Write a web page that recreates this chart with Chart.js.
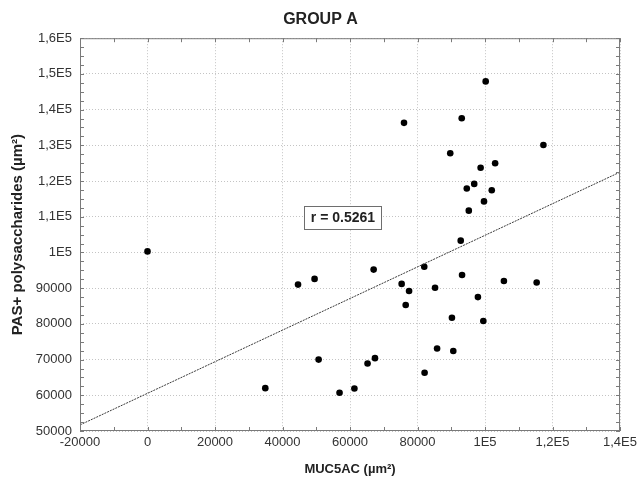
<!DOCTYPE html>
<html>
<head>
<meta charset="utf-8">
<script src="https://cdn.jsdelivr.net/npm/chart.js@4.4.1/dist/chart.umd.js"></script>
<style>
  html, body { margin: 0; padding: 0; background: #fff; }
  #wrap { width: 641px; height: 480px; }
</style>
</head>
<body>
<div id="wrap"><canvas id="scatterChart" width="641" height="480"></canvas></div>
<script>
// MUC5AC area (x) vs PAS+ polysaccharides area (y)
const mucValues = [0, 34900, 44600, 49500, 50700, 56900, 61300, 65200, 67000, 67400,
  75300, 76000, 76500, 77500, 82000, 82100, 85200, 85800, 89700, 90200,
  90600, 92800, 93100, 93200, 94600, 95200, 96800, 97900, 98700, 99500,
  99700, 100200, 102000, 103000, 105600, 115300, 117300]
const pasValues = [100300, 62000, 91000, 92600, 70000, 60700, 61900, 68900, 95200, 70400,
  91200, 136300, 85300, 89200, 96000, 66300, 90100, 73100, 127800, 81700,
  72400, 103300, 137600, 93700, 117900, 111700, 119200, 87500, 123700, 80800,
  114300, 147900, 117400, 125000, 92000, 91600, 130100]

// regression line end points as drawn in the figure
const fitX = [-20000, 140000]
const fitY = [51700, 122500]

const rLabel = "r = 0.5261"
const rLabelAt = [57900, 109900]

const titleText = "GROUP A"
const xTitle = "MUC5AC (µm²)"
const yTitle = "PAS+ polysaccharides (µm²)"

const points = mucValues.map((x, i) => ({ x, y: pasValues[i] }))
const fitLine = fitX.map((x, i) => ({ x, y: fitY[i] }))

function tickText(value) {
  if (Math.abs(value) >= 100000) {
    return (value / 100000).toString().replace(".", ",") + "E5"
  }
  return String(value)
}

const framePlugin = {
  id: "frame",
  beforeDraw(chart) {
    const { ctx } = chart
    ctx.save()
    ctx.fillStyle = "#fff"
    ctx.fillRect(0, 0, chart.width, chart.height)
    ctx.restore()
  },
  afterDatasetsDraw(chart) {
    const { ctx, chartArea: a, scales } = chart
    ctx.save()
    ctx.strokeStyle = "#7a7a7a"
    ctx.lineWidth = 1
    ctx.strokeRect(a.left + 0.5, a.top + 0.5, a.right - a.left - 1, a.bottom - a.top - 1)

    ctx.beginPath()
    for (let v = scales.x.min; v <= scales.x.max; v += 10000) {
      const px = Math.round(scales.x.getPixelForValue(v)) + 0.5
      ctx.moveTo(px, a.top); ctx.lineTo(px, a.top + 4)
      ctx.moveTo(px, a.bottom); ctx.lineTo(px, a.bottom - 4)
    }
    for (let v = scales.y.min; v <= scales.y.max; v += 2500) {
      const py = Math.round(scales.y.getPixelForValue(v)) + 0.5
      ctx.moveTo(a.left, py); ctx.lineTo(a.left + 4, py)
      ctx.moveTo(a.right, py); ctx.lineTo(a.right - 4, py)
    }
    ctx.stroke()

    // correlation label box
    const cx = scales.x.getPixelForValue(rLabelAt[0])
    const cy = scales.y.getPixelForValue(rLabelAt[1])
    const w = 77, h = 23
    const bx = Math.round(cx - w / 2) + 0.5
    const by = Math.round(cy - h / 2) + 0.5
    ctx.fillStyle = "#fff"
    ctx.fillRect(bx, by, w, h)
    ctx.strokeStyle = "#6e6e6e"
    ctx.strokeRect(bx, by, w, h)
    ctx.fillStyle = "#222"
    ctx.font = "bold 14px 'Liberation Sans', Arial, sans-serif"
    ctx.textAlign = "center"
    ctx.textBaseline = "middle"
    ctx.fillText(rLabel, cx, cy + 1)
    ctx.restore()
  }
}

const tickFont = { family: "'Liberation Sans', Arial, sans-serif", size: 13 }
const titleFont = { family: "'Liberation Sans', Arial, sans-serif", size: 13, weight: "bold" }
const gridStyle = { color: "#c4c4c4", drawTicks: false }
const gridBorder = { display: false, dash: [1, 2] }

new Chart(document.getElementById("scatterChart"), {
  type: "scatter",
  data: {
    datasets: [
      {
        label: "fit",
        data: fitLine,
        showLine: true,
        borderColor: "#3a3a3a",
        borderWidth: 1,
        borderDash: [2, 1],
        pointRadius: 0,
        fill: false
      },
      {
        label: "cases",
        data: points,
        backgroundColor: "#000",
        borderColor: "#000",
        pointRadius: 3.3,
        borderWidth: 0
      }
    ]
  },
  options: {
    responsive: false,
    animation: false,
    layout: { padding: { left: 0, right: 0, top: 0, bottom: 0 } },
    plugins: {
      legend: { display: false },
      tooltip: { enabled: false },
      title: {
        display: true,
        text: titleText,
        color: "#222",
        font: { family: "'Liberation Sans', Arial, sans-serif", size: 16, weight: "bold" },
        padding: { top: 10, bottom: 9 }
      }
    },
    scales: {
      x: {
        type: "linear",
        min: -20000,
        max: 140000,
        grid: gridStyle,
        border: gridBorder,
        ticks: { stepSize: 20000, color: "#333", font: tickFont, padding: 4, maxRotation: 0, callback: tickText },
        title: { display: true, text: xTitle, color: "#222", font: titleFont, padding: { top: 3, bottom: 3 } },
        afterFit: (scale) => { scale.height = 49 }
      },
      y: {
        type: "linear",
        min: 50000,
        max: 160000,
        grid: gridStyle,
        border: gridBorder,
        ticks: { stepSize: 10000, color: "#333", font: tickFont, padding: 8, callback: tickText },
        title: {
          display: true,
          text: yTitle,
          color: "#222",
          font: { family: "'Liberation Sans', Arial, sans-serif", size: 15, weight: "bold" },
          padding: { top: 9, bottom: 9 }
        },
        afterFit: (scale) => { scale.width = 80 }
      }
    }
  },
  plugins: [framePlugin]
})
</script>
</body>
</html>
